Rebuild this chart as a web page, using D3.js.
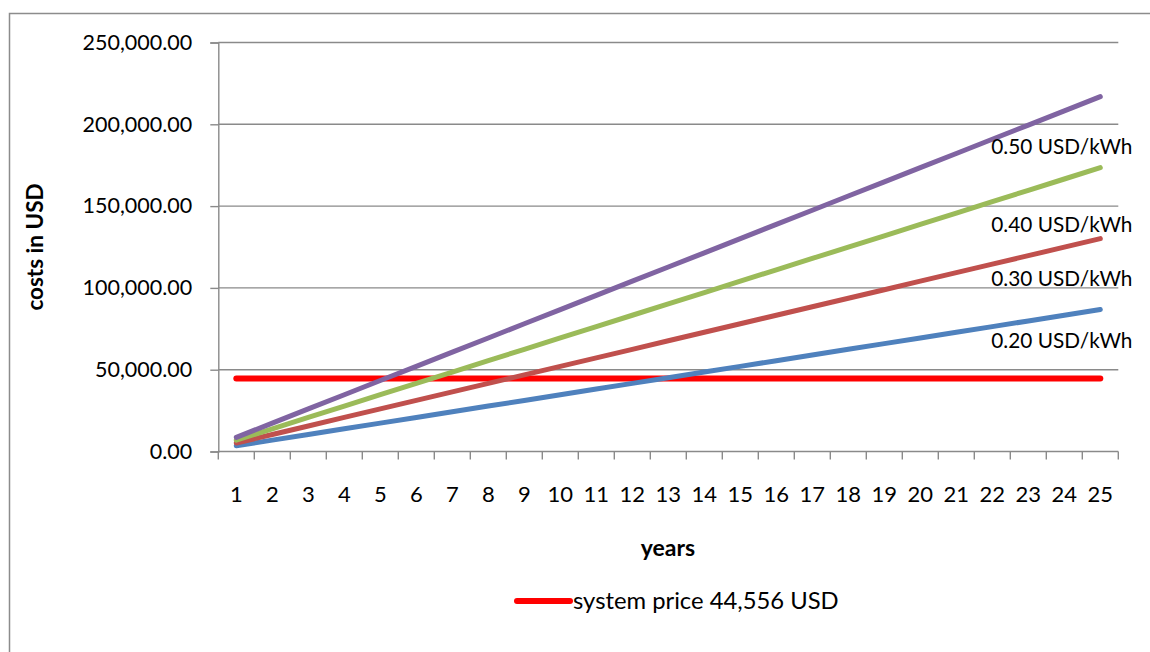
<!DOCTYPE html>
<html>
<head>
<meta charset="utf-8">
<script src="https://cdn.jsdelivr.net/npm/d3@7"></script>
<style>
  html, body { margin: 0; padding: 0; background: #fff; }
  svg { display: block; font-family: Lato, "Open Sans", sans-serif; }
</style>
</head>
<body>
<svg id="chart" width="1150" height="652"></svg>
<script>
// Years on the horizontal axis
const years = [1,2,3,4,5,6,7,8,9,10,11,12,13,14,15,16,17,18,19,20,21,22,23,24,25];

// Cumulative electricity costs (USD) for each tariff
const cost020 = [3470,6940,10410,13880,17350,20820,24290,27760,31230,34700,38170,41640,45110,48580,52050,55520,58990,62460,65930,69400,72870,76340,79810,83280,86750];
const cost030 = [5205,10410,15615,20820,26025,31230,36435,41640,46845,52050,57255,62460,67665,72870,78075,83280,88485,93690,98895,104100,109305,114510,119715,124920,130125];
const cost040 = [6940,13880,20820,27760,34700,41640,48580,55520,62460,69400,76340,83280,90220,97160,104100,111040,117980,124920,131860,138800,145740,152680,159620,166560,173500];
const cost050 = [8675,17350,26025,34700,43375,52050,60725,69400,78075,86750,95425,104100,112775,121450,130125,138800,147475,156150,164825,173500,182175,190850,199525,208200,216875];

// One-off system price (USD), flat across all years
const systemPrice = [44556,44556,44556,44556,44556,44556,44556,44556,44556,44556,44556,44556,44556,44556,44556,44556,44556,44556,44556,44556,44556,44556,44556,44556,44556];

const seriesNames = ["0.20 USD/kWh","0.30 USD/kWh","0.40 USD/kWh","0.50 USD/kWh"];
const yTicks = [0,50000,100000,150000,200000,250000];
const legendLabel = "system price 44,556 USD";

const svg = d3.select("#chart");

// Outer chart frame
svg.append("rect")
  .attr("x", 9.5).attr("y", 13.5)
  .attr("width", 1200).attr("height", 700)
  .attr("fill", "none").attr("stroke", "#8c8c8c").attr("stroke-width", 1.5);

const x = d3.scaleBand().domain(years).range([218.3, 1118.3]).padding(0);
const y = d3.scaleLinear().domain([0, 250000]).range([451.5, 42.5]);
const xc = d => x(d) + x.bandwidth() / 2;

const fmt = d3.format(",.2f");
const gridColor = "#8a8a8a";

// Horizontal gridlines
svg.append("g").selectAll("line").data(yTicks.filter(t => t > 0)).join("line")
  .attr("x1", 218.3).attr("x2", 1118.3)
  .attr("y1", d => y(d)).attr("y2", d => y(d))
  .attr("stroke", gridColor).attr("stroke-width", 1.4);

// Y axis
const yAxis = svg.append("g").attr("transform", "translate(218.3,0)")
  .call(d3.axisLeft(y).tickValues(yTicks).tickFormat(fmt).tickSize(8).tickPadding(18));
yAxis.select(".domain").attr("stroke", gridColor).attr("stroke-width", 1.4);
yAxis.selectAll(".tick line").attr("stroke", gridColor).attr("stroke-width", 1.4);
yAxis.selectAll(".tick text").attr("font-size", 21.5).attr("fill", "#000")
  .attr("font-family", "Lato, 'Open Sans', sans-serif");

// X axis with tick marks at the category boundaries
const xAxisG = svg.append("g").attr("transform", "translate(0,451.5)");
xAxisG.append("line").attr("x1", 218.3).attr("x2", 1118.3)
  .attr("stroke", gridColor).attr("stroke-width", 1.4);
const boundaries = years.map(d => x(d)).concat([x(years[years.length - 1]) + x.bandwidth()]);
xAxisG.selectAll("line.tk").data(boundaries).join("line").attr("class", "tk")
  .attr("x1", d => d).attr("x2", d => d).attr("y1", 0).attr("y2", 8)
  .attr("stroke", gridColor).attr("stroke-width", 1.4);
xAxisG.selectAll("text").data(years).join("text")
  .attr("x", d => xc(d)).attr("y", 50.5)
  .attr("text-anchor", "middle").attr("font-size", 22).attr("fill", "#000")
  .text(d => d);

// Axis titles
svg.append("text").attr("x", 668).attr("y", 556).attr("text-anchor", "middle")
  .attr("font-size", 23).attr("font-weight", "bold").text("years");
svg.append("text").attr("transform", "translate(43,247) rotate(-90)")
  .attr("text-anchor", "middle").attr("font-size", 22.5).attr("font-weight", "bold")
  .text("costs in USD");

// Cost lines
const line = d3.line().x((d, i) => xc(years[i])).y(d => y(d));
const costSeries = [cost020, cost030, cost040, cost050];
const colors = ["#4F81BD", "#C0504D", "#9BBB59", "#8064A2"];

svg.append("path").datum(systemPrice).attr("d", line)
  .attr("fill", "none").attr("stroke", "#FF0000").attr("stroke-width", 6)
  .attr("stroke-linecap", "round");

svg.append("g").selectAll("path").data(costSeries).join("path")
  .attr("d", line).attr("fill", "none")
  .attr("stroke", (d, i) => colors[i]).attr("stroke-width", 5)
  .attr("stroke-linecap", "round").attr("stroke-linejoin", "round");

// Series labels placed below each line's end point
const labelDy = [38, 47, 64, 57];
svg.append("g").selectAll("text").data(costSeries).join("text")
  .attr("x", xc(years[years.length - 1]) - 109)
  .attr("y", (d, i) => y(d[d.length - 1]) + labelDy[i])
  .attr("font-size", 20.8).attr("fill", "#000")
  .text((d, i) => seriesNames[i]);

// Legend
svg.append("line").attr("x1", 517).attr("x2", 570).attr("y1", 601).attr("y2", 601)
  .attr("stroke", "#FF0000").attr("stroke-width", 6).attr("stroke-linecap", "round");
svg.append("text").attr("x", 573).attr("y", 609)
  .attr("font-size", 23.8).attr("fill", "#000").text(legendLabel);
</script>
</body>
</html>
